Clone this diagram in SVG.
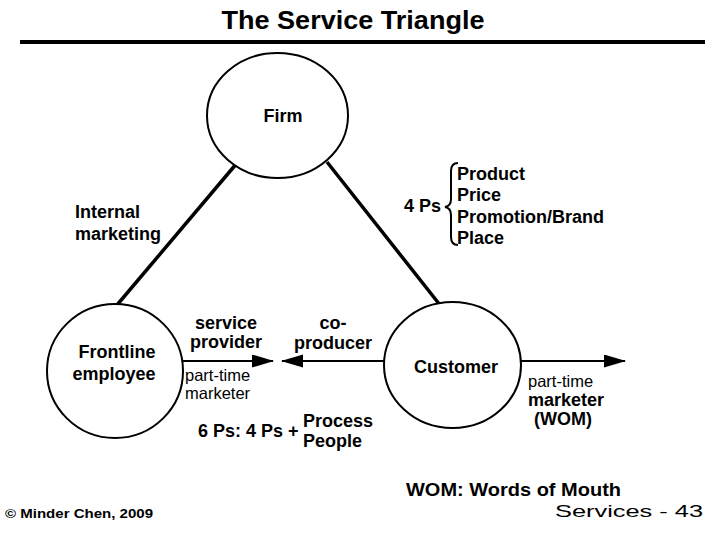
<svg xmlns="http://www.w3.org/2000/svg" width="720" height="540" viewBox="0 0 720 540">
<style>
text{font-family:"Liberation Sans",Arial,sans-serif;fill:#000}
.b{font-weight:bold;font-size:18px}
.r{font-size:16.5px}
.node{fill:#fff;stroke:#000;stroke-width:2}
.edge{stroke:#000;stroke-width:3.5;fill:none}
.arr{stroke:#000;stroke-width:2;fill:none}
</style>
<defs>
<marker id="ah" markerUnits="userSpaceOnUse" markerWidth="22" markerHeight="14" refX="21" refY="6.5" orient="auto">
<path d="M0,0 L22,6.5 L0,13 z" fill="#000"/>
</marker>
</defs>
<rect width="720" height="540" fill="#fff"/>
<text x="353" y="29" font-size="25" font-weight="bold" text-anchor="middle" textLength="263" lengthAdjust="spacingAndGlyphs">The Service Triangle</text>
<line x1="20" y1="42" x2="705" y2="42" stroke="#000" stroke-width="4"/>
<g id="connectors">
<line class="edge" x1="237" y1="163" x2="117" y2="305"/>
<line class="edge" x1="327" y1="162" x2="440" y2="305"/>
<line class="arr" x1="183" y1="361" x2="273" y2="361" marker-end="url(#ah)"/>
<line class="arr" x1="384" y1="361" x2="282" y2="361" marker-end="url(#ah)"/>
<line class="arr" x1="521" y1="361" x2="625" y2="361" marker-end="url(#ah)"/>
</g>
<g id="firm">
<ellipse class="node" cx="277.5" cy="115.5" rx="70.5" ry="62.5"/>
<text class="b" x="283" y="122" text-anchor="middle">Firm</text>
</g>
<g id="frontline">
<ellipse class="node" cx="115" cy="371" rx="68" ry="67"/>
<text class="b" x="117" y="358" text-anchor="middle">Frontline</text>
<text class="b" x="114" y="380" text-anchor="middle">employee</text>
</g>
<g id="customer">
<ellipse class="node" cx="452.5" cy="365" rx="68.5" ry="63"/>
<text class="b" x="456" y="373" text-anchor="middle">Customer</text>
</g>
<g id="labels">
<text class="b" x="75" y="218">Internal</text>
<text class="b" x="75" y="240">marketing</text>
<text class="b" x="404" y="212">4 Ps</text>
<path d="M458,163 Q451,163 451,171 L451,199 Q451,206 445,207 Q451,208 451,215 L451,237 Q451,245 458,245" fill="none" stroke="#000" stroke-width="2"/>
<text class="b" x="457" y="180">Product</text>
<text class="b" x="457" y="201">Price</text>
<text class="b" x="457" y="223">Promotion/Brand</text>
<text class="b" x="457" y="244">Place</text>
<text class="b" x="226" y="329" text-anchor="middle">service</text>
<text class="b" x="226" y="348" text-anchor="middle">provider</text>
<text class="r" x="185" y="381">part-time</text>
<text class="r" x="185" y="399">marketer</text>
<text class="b" x="333" y="329" text-anchor="middle">co-</text>
<text class="b" x="333" y="349" text-anchor="middle">producer</text>
<text class="r" x="528" y="387">part-time</text>
<text class="b" x="528" y="406" font-size="17">marketer</text>
<text class="b" x="563" y="425" text-anchor="middle" font-size="17">(WOM)</text>
<text class="b" x="198" y="437">6 Ps: 4 Ps +</text>
<text class="b" x="303" y="427">Process</text>
<text class="b" x="303" y="447">People</text>
<text x="406" y="496" font-size="19" font-weight="bold" textLength="215" lengthAdjust="spacingAndGlyphs">WOM: Words of Mouth</text>
<text x="555" y="517" font-size="17" textLength="148" lengthAdjust="spacingAndGlyphs">Services - 43</text>
<text x="5" y="518" font-size="12.5" font-weight="bold" textLength="148" lengthAdjust="spacingAndGlyphs">© Minder Chen, 2009</text>
</g>
</svg>
